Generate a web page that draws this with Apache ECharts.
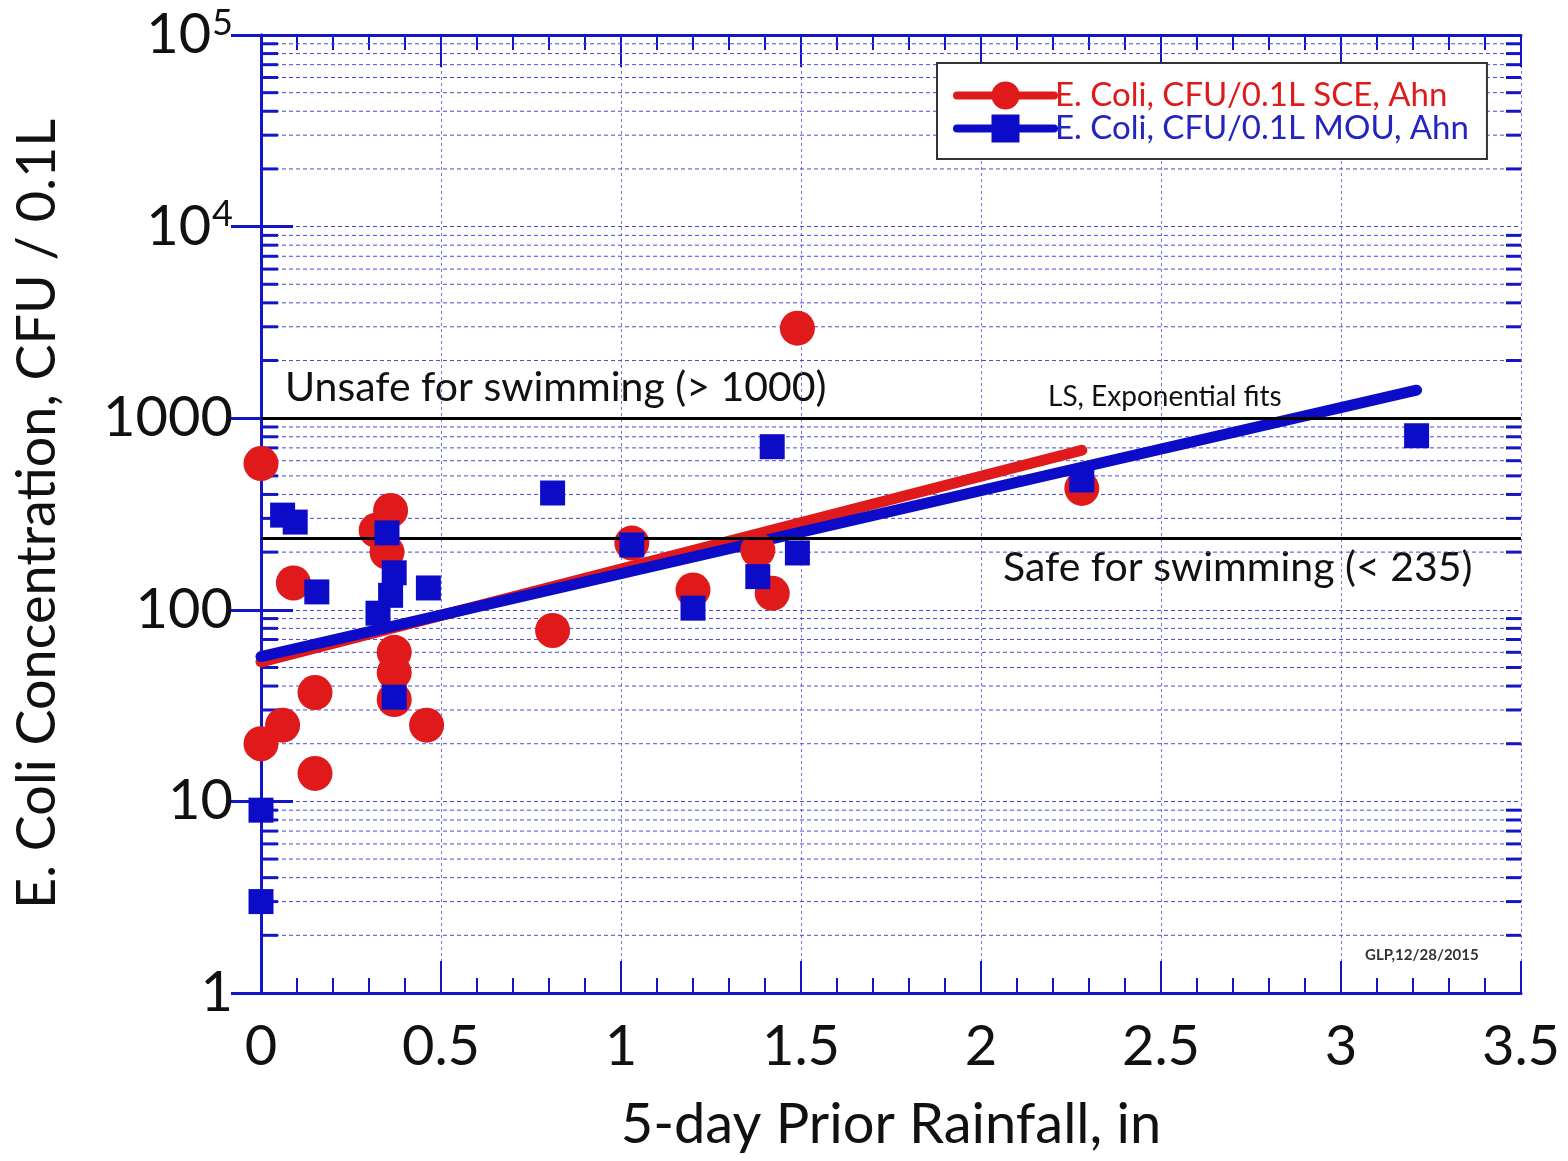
<!DOCTYPE html>
<html>
<head>
<meta charset="utf-8">
<script src="https://cdn.jsdelivr.net/npm/echarts@6/dist/echarts.min.js"></script>
<style>
html,body{margin:0;padding:0;background:#fff;}
#chart{width:1568px;height:1161px;}
</style>
</head>
<body>
<div id="chart"></div>
<script>
// ---- data ----
const sceName = 'E. Coli, CFU/0.1L SCE, Ahn';
const mouName = 'E. Coli, CFU/0.1L MOU, Ahn';
const sceX = [0, 0.09, 0.36, 0.32, 0.35, 0.37, 0.37, 0.37, 0.15, 0.06, 0, 0.46, 0.15, 1.49, 1.03, 0.81, 1.2, 1.38, 1.42, 2.28];
const sceY = [580, 138, 330, 260, 200, 60, 47, 34, 37, 25, 20, 25, 14, 2950, 223, 78, 127, 205, 122, 430];
const mouX = [0.06, 0.095, 0.155, 0.35, 0.37, 0.36, 0.325, 0.465, 0.37, 0, 0, 0.81, 1.42, 1.03, 1.2, 1.38, 1.49, 2.28, 3.21];
const mouY = [312, 287, 124, 252, 156, 119, 96, 130, 35, 9, 3, 407, 710, 218, 102, 149, 198, 476, 810];
// exponential least-squares fits (straight on a log axis): end points
const sceFitX = [0, 2.28];
const sceFitY = [53.5, 680];
const mouFitX = [0, 3.21];
const mouFitY = [57, 1400];
// reference levels
const thresholds = [1000, 235];
// axes
const xMin = 0, xMax = 3.5, xStep = 0.5;
const yMin = 1, yMax = 100000;
const yTickText = {1: '1', 10: '10', 100: '100', 1000: '1000', 10000: '10^4', 100000: '10^5'};

const zip = (a, b) => a.map((v, i) => [v, b[i]]);
// minor log positions (2..9 per decade)
const minorY = [];
for (let d = yMin; d < yMax; d *= 10) {
  for (let m = 2; m <= 9; m++) minorY.push([0, d * m]);
}

const AX = '#1414c8';
const RED = '#e01a1a';
const BLUE = '#0c0cc8';
const FONT = 'Lato';

const chart = echarts.init(document.getElementById('chart'), null, {renderer: 'canvas'});

const option = {
  backgroundColor: '#ffffff',
  animation: false,
  textStyle: {fontFamily: FONT},
  grid: {left: 261, right: 47, top: 35, bottom: 168, containLabel: false},
  legend: {
    orient: 'vertical',
    left: 937, top: 63,
    padding: [16, 18, 14, 16],
    itemGap: 0,
    itemWidth: 97, itemHeight: 35,
    backgroundColor: '#ffffff',
    borderColor: '#333333', borderWidth: 2,
    lineStyle: {width: 8},
    textStyle: {fontFamily: FONT, fontSize: 33, padding: [0, 0, 0, -4]},
    data: [
      {name: sceName, textStyle: {color: RED}},
      {name: mouName, textStyle: {color: '#2424c0'}}
    ]
  },
  xAxis: [
    {
      type: 'value', position: 'bottom',
      min: xMin, max: xMax, interval: xStep,
      axisLine: {show: true, lineStyle: {color: AX, width: 3}},
      axisTick: {show: true, inside: true, length: 32, lineStyle: {color: AX, width: 2}},
      minorTick: {show: true, splitNumber: 5, length: 15, lineStyle: {color: AX, width: 2}},
      axisLabel: {color: '#111', fontSize: 56, margin: 26, fontFamily: FONT},
      splitLine: {show: true, lineStyle: {color: '#7070e8', width: 1, type: [3, 3]}},
      name: '5-day Prior Rainfall, in',
      nameLocation: 'middle', nameGap: 104,
      nameTextStyle: {color: '#111', fontSize: 56, fontFamily: FONT}
    },
    {
      type: 'value', position: 'top',
      min: xMin, max: xMax, interval: xStep,
      axisLine: {show: true, lineStyle: {color: AX, width: 3}},
      axisTick: {show: true, inside: true, length: 32, lineStyle: {color: AX, width: 2}},
      minorTick: {show: true, splitNumber: 5, length: 15, lineStyle: {color: AX, width: 2}},
      axisLabel: {show: false},
      splitLine: {show: false}
    }
  ],
  yAxis: [
    {
      type: 'log', logBase: 10, position: 'left',
      min: yMin, max: yMax,
      axisLine: {show: true, lineStyle: {color: AX, width: 3}},
      axisTick: {show: true, inside: true, length: 32, lineStyle: {color: AX, width: 3}},
      axisLabel: {
        color: '#111', fontSize: 56, margin: 28, fontFamily: FONT,
        formatter: function (v) {
          const t = yTickText[Math.round(v)] || '';
          if (t.indexOf('^') >= 0) {
            const p = t.split('^');
            return '{m|' + p[0] + '}{s|' + p[1] + '}';
          }
          return '{m|' + t + '}';
        },
        rich: {
          m: {fontSize: 56, fontFamily: FONT, color: '#111'},
          s: {fontSize: 36, fontFamily: FONT, color: '#111', verticalAlign: 'top', padding: [0, 0, 24, 1]}
        }
      },
      splitLine: {show: true, lineStyle: {color: '#4a4ad8', width: 1, type: [4, 3]}},
      name: 'E. Coli Concentration, CFU / 0.1L',
      nameLocation: 'middle', nameGap: 196, nameRotate: 90,
      nameTextStyle: {color: '#111', fontSize: 54, fontFamily: FONT}
    },
    {
      type: 'log', logBase: 10, position: 'right',
      min: yMin, max: yMax,
      axisLine: {show: true, lineStyle: {color: AX, width: 3}},
      axisTick: {show: true, inside: true, length: 30, lineStyle: {color: AX, width: 3}},
      axisLabel: {show: false},
      splitLine: {show: false}
    }
  ],
  series: [
    {
      // minor log grid lines and minor ticks on left/right, plus reference levels
      type: 'custom', name: 'minor', silent: true, z: 1,
      xAxisIndex: 0, yAxisIndex: 0, clip: false,
      data: minorY,
      renderItem: function (params, api) {
        const y = api.coord([0, api.value(1)])[1];
        const cs = params.coordSys;
        return {
          type: 'group',
          children: [
            {type: 'line', shape: {x1: cs.x, y1: y, x2: cs.x + cs.width, y2: y},
              style: {stroke: '#4a4ad8', lineWidth: 1, lineDash: [4, 3]}},
            {type: 'line', shape: {x1: cs.x, y1: y, x2: cs.x + 17, y2: y},
              style: {stroke: AX, lineWidth: 3}},
            {type: 'line', shape: {x1: cs.x + cs.width - 15, y1: y, x2: cs.x + cs.width, y2: y},
              style: {stroke: AX, lineWidth: 3}}
          ]
        };
      },
      markLine: {
        silent: true, symbol: 'none', label: {show: false},
        lineStyle: {color: '#000', width: 3, type: 'solid'},
        data: thresholds.map(v => ({yAxis: v}))
      }
    },
    {
      type: 'line', name: sceName, z: 3,
      data: zip(sceFitX, sceFitY),
      symbol: 'circle', showSymbol: false, symbolSize: 30,
      lineStyle: {color: RED, width: 11, cap: 'round'},
      itemStyle: {color: RED}
    },
    {
      type: 'line', name: mouName, z: 3,
      data: zip(mouFitX, mouFitY),
      symbol: 'rect', showSymbol: false, symbolSize: 26,
      lineStyle: {color: BLUE, width: 11, cap: 'round'},
      itemStyle: {color: BLUE}
    },
    {
      type: 'scatter', name: sceName, z: 4,
      data: zip(sceX, sceY),
      symbol: 'circle', symbolSize: 35,
      itemStyle: {color: RED, opacity: 1}
    },
    {
      type: 'scatter', name: mouName, z: 5,
      data: zip(mouX, mouY),
      symbol: 'rect', symbolSize: 25,
      itemStyle: {color: BLUE, opacity: 1}
    }
  ],
  graphic: [
    {type: 'text', left: 285, top: 367, silent: true,
      style: {text: 'Unsafe for swimming (> 1000)', font: '41px Lato', fill: '#111'}},
    {type: 'text', left: 1003, top: 547, silent: true,
      style: {text: 'Safe for swimming (< 235)', font: '41px Lato', fill: '#111'}},
    {type: 'text', left: 1048, top: 383, silent: true,
      style: {text: 'LS, Exponential fits', font: '28px Lato', fill: '#111'}},
    {type: 'text', left: 1365, top: 948, silent: true,
      style: {text: 'GLP,12/28/2015', font: 'bold 15px Lato', fill: '#333'}}
  ]
};
chart.setOption(option);
</script>
</body>
</html>
